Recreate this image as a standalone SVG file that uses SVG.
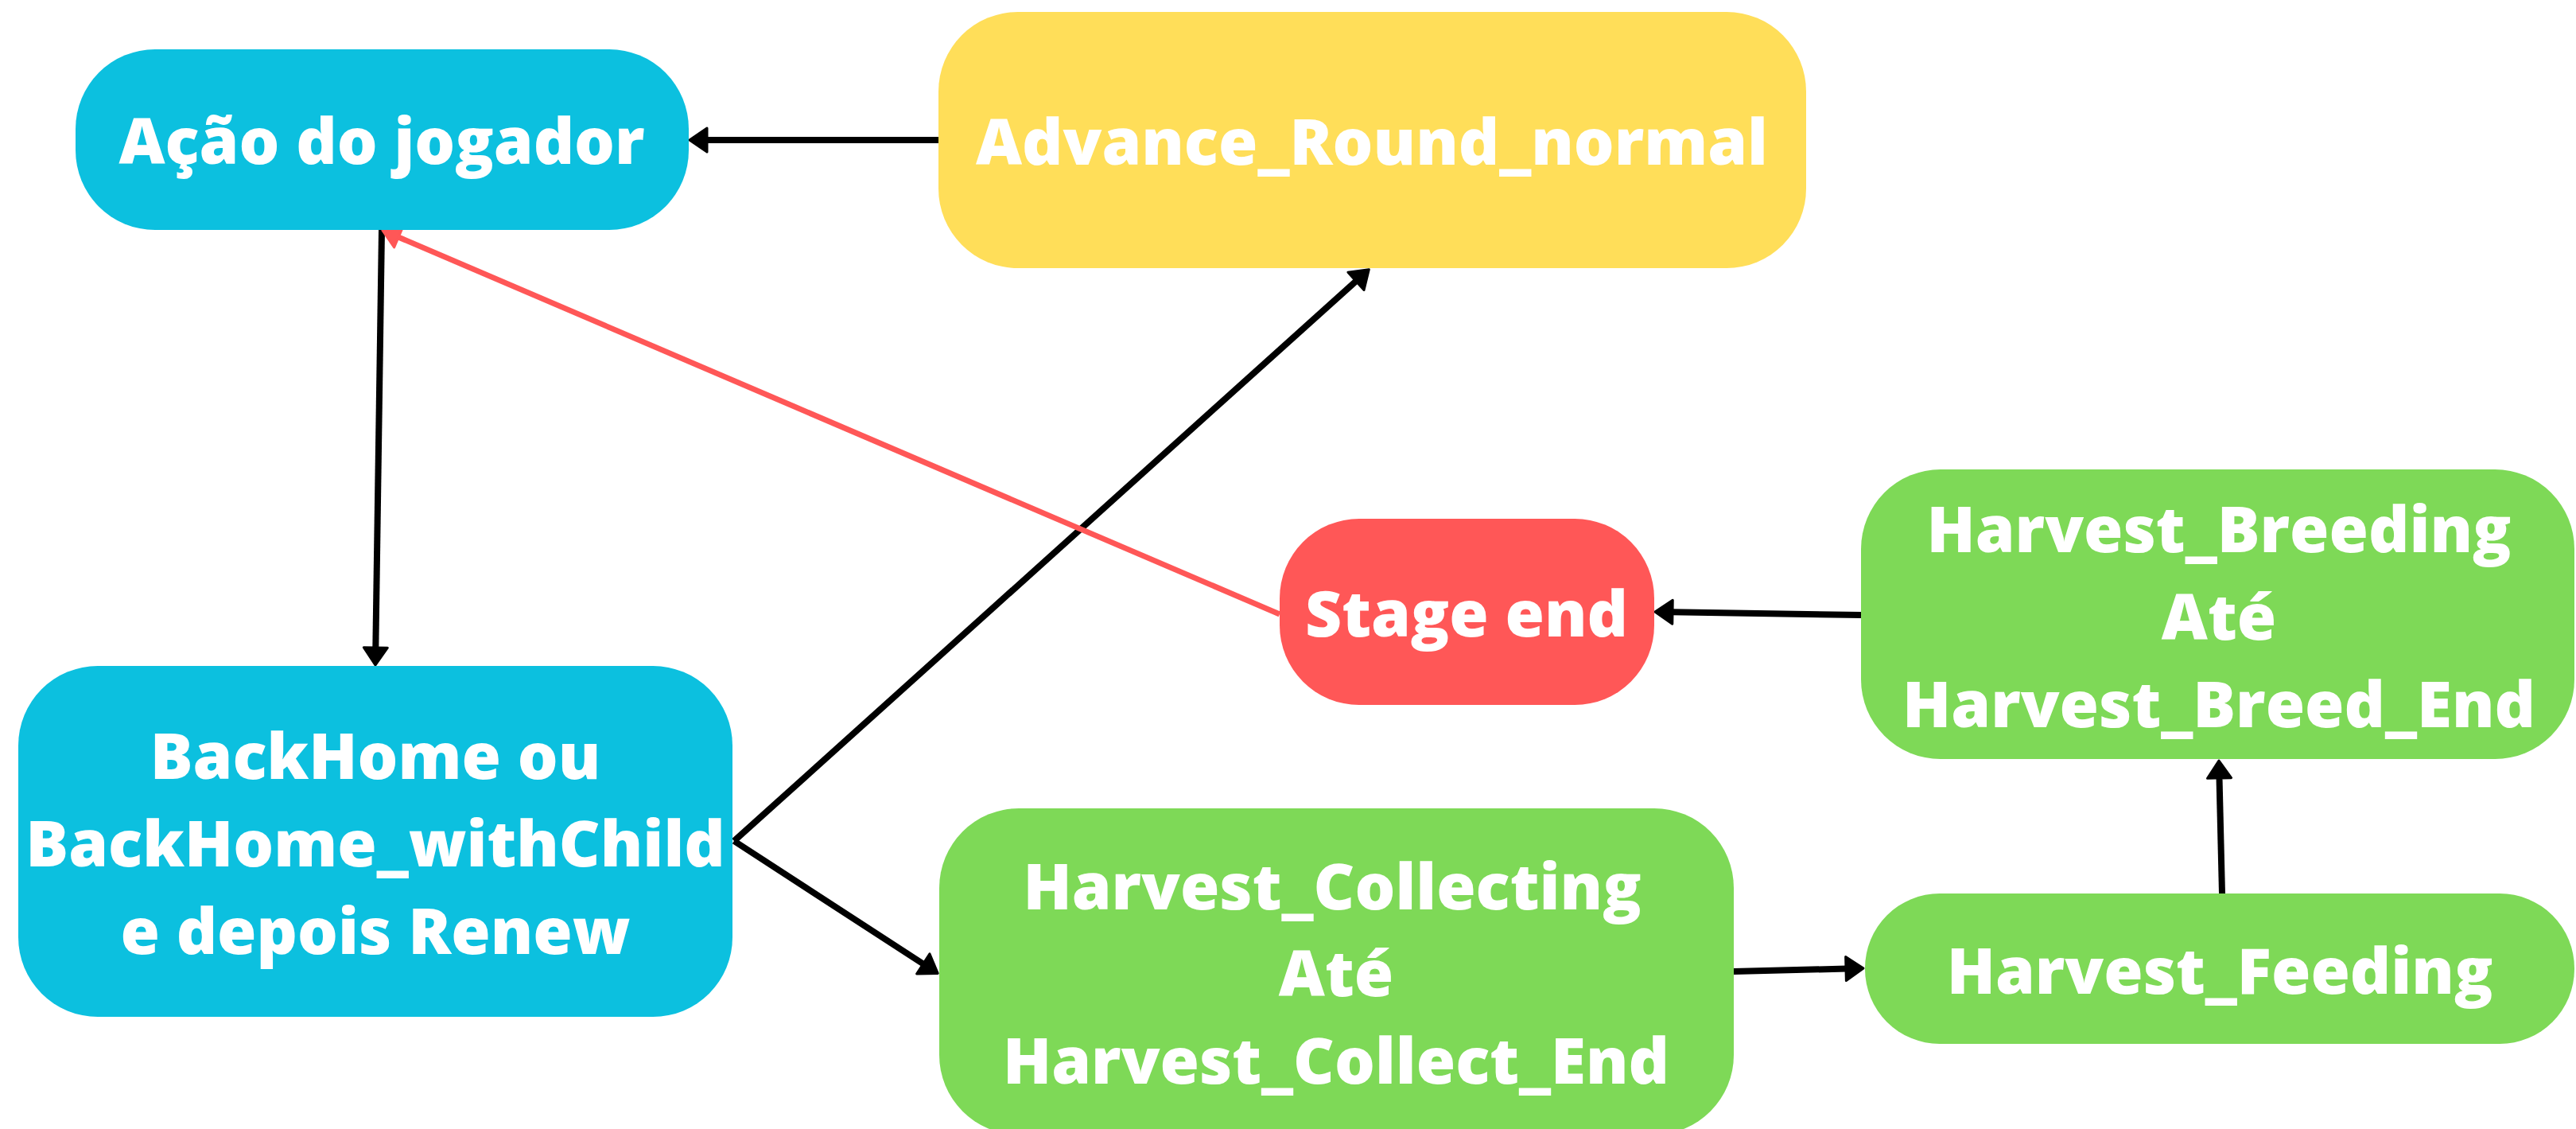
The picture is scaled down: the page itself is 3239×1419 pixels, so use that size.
<svg xmlns="http://www.w3.org/2000/svg" width="3239" height="1419" viewBox="0 0 3239 1419">
<style>
.lbl{font-family:"Open Sans","Noto Sans","Liberation Sans",sans-serif;font-weight:800;font-size:80px;fill:#ffffff;text-anchor:middle}
.cy{fill:#0CC0DF}.ye{fill:#FFDE59}.gr{fill:#7ED957}.rd{fill:#FF5757}
.ln{fill:none;stroke:#000000;stroke-width:8}
.lr{fill:none;stroke:#FF5757;stroke-width:7}
</style>
<defs>
<marker id="ah" markerUnits="userSpaceOnUse" markerWidth="28" markerHeight="36" viewBox="-2 -2 28 36" refX="2" refY="16" orient="auto"><path d="M1,1 L23,16 L1,31 z" fill="#000000" stroke="#000000" stroke-width="3" stroke-linejoin="round"/></marker>
<marker id="ahr" markerUnits="userSpaceOnUse" markerWidth="28" markerHeight="36" viewBox="-2 -2 28 36" refX="2" refY="16" orient="auto"><path d="M1,2 L23,16 L1,30 z" fill="#FF5757" stroke="#FF5757" stroke-width="3" stroke-linejoin="round"/></marker>
</defs>
<rect width="3239" height="1419" fill="#ffffff"/>
<g id="connectors">
<path class="ln" d="M1180,176 L888,176" marker-end="url(#ah)"/>
<path class="ln" d="M480,289 L472.3,815" marker-end="url(#ah)"/>
<path class="ln" d="M923,1057 L1705.7,352.7" marker-end="url(#ah)"/>
<path class="ln" d="M923,1057 L1161.6,1212" marker-end="url(#ah)"/>
<path class="ln" d="M2180,1221 L2322,1217.5" marker-end="url(#ah)"/>
<path class="ln" d="M2794,1123 L2790.5,977" marker-end="url(#ah)"/>
<path class="ln" d="M2340,773 L2102,769.3" marker-end="url(#ah)"/>
<path class="lr" d="M1609,772 L500.2,297.7" marker-end="url(#ahr)"/>
</g>
<g id="acao">
<rect class="cy" x="95" y="62" width="771" height="227" rx="100" ry="100"/>
<text class="lbl" x="480" y="206">Ação do jogador</text>
</g>
<g id="advance">
<rect class="ye" x="1180" y="15" width="1091" height="322" rx="100" ry="100"/>
<text class="lbl" x="1725" y="207">Advance_Round_normal</text>
</g>
<g id="backhome">
<rect class="cy" x="23" y="837" width="898" height="441" rx="100" ry="100"/>
<text class="lbl" x="472" y="979">BackHome ou</text>
<text class="lbl" x="472" y="1089">BackHome_withChild</text>
<text class="lbl" x="472" y="1199">e depois Renew</text>
</g>
<g id="stageend">
<rect class="rd" x="1609" y="652" width="471" height="234" rx="100" ry="100"/>
<text class="lbl" x="1844" y="800">Stage end</text>
</g>
<g id="breeding">
<rect class="gr" x="2340" y="590" width="897" height="364" rx="100" ry="100"/>
<text class="lbl" x="2790" y="694">Harvest_Breeding</text>
<text class="lbl" x="2790" y="804">Até</text>
<text class="lbl" x="2790" y="914">Harvest_Breed_End</text>
</g>
<g id="collecting">
<rect class="gr" x="1181" y="1016" width="999" height="410" rx="100" ry="100"/>
<text class="lbl" x="1675" y="1143">Harvest_Collecting</text>
<text class="lbl" x="1680" y="1252">Até</text>
<text class="lbl" x="1680" y="1362">Harvest_Collect_End</text>
</g>
<g id="feeding">
<rect class="gr" x="2345" y="1123" width="892" height="189" rx="94" ry="94"/>
<text class="lbl" x="2791" y="1249">Harvest_Feeding</text>
</g>
</svg>
